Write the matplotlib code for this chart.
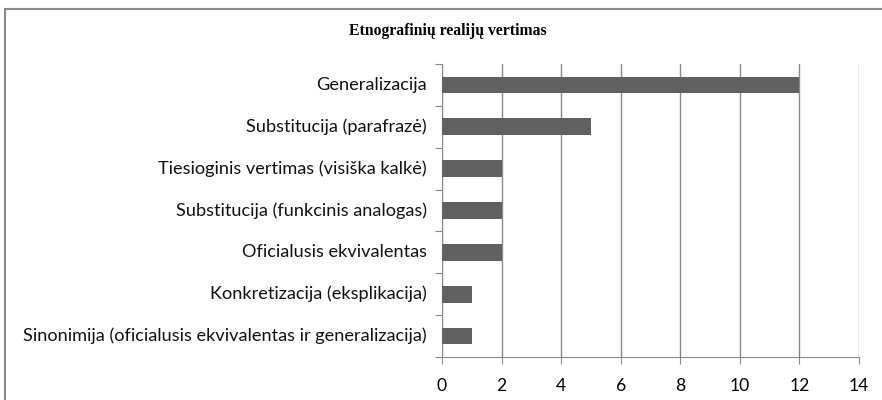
import matplotlib.pyplot as plt
from matplotlib.lines import Line2D
from matplotlib.transforms import ScaledTranslation

# data
categories = [
    "Sinonimija (oficialusis ekvivalentas ir generalizacija)",
    "Konkretizacija (eksplikacija)",
    "Oficialusis ekvivalentas",
    "Substitucija (funkcinis analogas)",
    "Tiesioginis vertimas (visiška kalkė)",
    "Substitucija (parafrazė)",
    "Generalizacija",
]
values = [1, 1, 2, 2, 2, 5, 12]
xticks = [0, 2, 4, 6, 8, 10, 12, 14]
title = "Etnografinių realijų vertimas"

fig = plt.figure(figsize=(8.82, 4.0), dpi=100)
ax = fig.add_axes([442 / 882, 1 - 357 / 400, (859 - 442) / 882, (357 - 64) / 400])

pos = range(len(categories))
ax.barh(pos, values, height=0.4, color="#606060", zorder=3)
ax.set_xlim(0, 14)
ax.set_ylim(-0.5, len(categories) - 0.5)
ax.set_xticks(xticks)
ax.set_xticklabels([str(t) for t in xticks], fontsize=12.6, family="Lato")
ax.xaxis.grid(True, color="#8a8a8a", lw=1, zorder=0)

# ticks sit on category boundaries, labels are centred on the bars
ax.set_yticks([p - 0.5 for p in pos] + [len(categories) - 0.5])
ax.set_yticklabels([])
ax.tick_params(axis="y", length=5, color="#8a8a8a", direction="out")
ax.tick_params(axis="x", length=5, color="#8a8a8a", direction="out", pad=10)
shift = ax.get_yaxis_transform() + ScaledTranslation(-15 / 100, 0, fig.dpi_scale_trans)
for p, c in zip(pos, categories):
    ax.text(0, p, c, ha="right", va="center", fontsize=13.1,
            family="Lato", transform=shift, color="#111111")

for s in ["top", "right"]:
    ax.spines[s].set_visible(False)
for s in ["left", "bottom"]:
    ax.spines[s].set_color("#8a8a8a")

fig.text(448 / 882, 1 - 31 / 400, title, ha="center", va="center",
         fontsize=11.3, fontweight="bold", family="Liberation Serif")

# chart border (only top and left visible)
fig.add_artist(Line2D([4.5 / 882, 1.0], [1 - 8.5 / 400] * 2, color="#8a8a8a", lw=1.5,
                      transform=fig.transFigure))
fig.add_artist(Line2D([4.5 / 882] * 2, [0, 1 - 8.5 / 400], color="#8a8a8a", lw=1.5,
                      transform=fig.transFigure))

fig.savefig("out.png", dpi=100)
